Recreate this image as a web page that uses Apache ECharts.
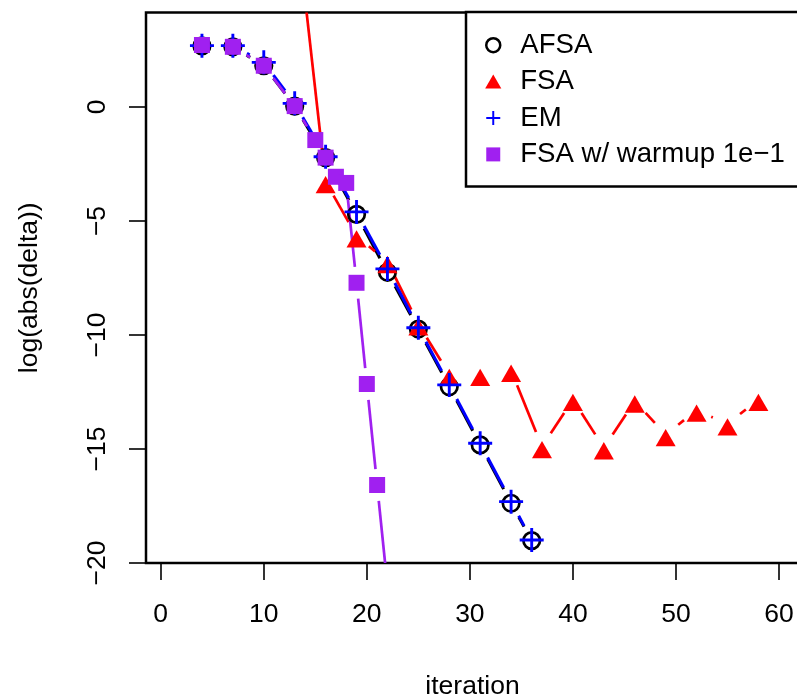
<!DOCTYPE html>
<html><head><meta charset="utf-8">
<script src="https://cdn.jsdelivr.net/npm/echarts@6/dist/echarts.min.js"></script>
<style>html,body{margin:0;padding:0;background:#fff}#c{width:797px;height:698px}</style>
</head><body><div id="c"></div>
<script>
// ---- data ----
const afsaX = [4, 7, 10, 13, 16, 19, 22, 25, 28, 31, 34, 36];
const afsaY = [2.68, 2.64, 1.81, 0.04, -2.22, -4.71, -7.25, -9.74, -12.27, -14.82, -17.38, -19.02];
const emX = [4, 7, 10, 13, 16, 19, 22, 25, 28, 31, 34, 36];
const emY = [2.69, 2.69, 1.96, 0.16, -2.18, -4.60, -7.10, -9.68, -12.19, -14.75, -17.31, -18.99];
const fsaX = [13, 16, 19, 22, 25, 28, 31, 34, 37, 40, 43, 46, 49, 52, 55, 58];
const fsaY = [8.8, -3.28, -5.66, -6.78, -9.52, -11.73, -11.73, -11.55, -14.90, -12.83, -14.95, -12.90, -14.37, -13.30, -13.90, -12.83];
const warmX = [4, 7, 10, 13, 15, 16, 17, 18, 19, 20, 21, 22];
const warmY = [2.72, 2.64, 1.81, 0.04, -1.45, -2.22, -3.06, -3.33, -7.71, -12.15, -16.58, -21.0];
const xTicks = [0, 10, 20, 30, 40, 50, 60];
const yTicks = [-20, -15, -10, -5, 0];
const names = ['AFSA', 'FSA', 'EM', 'FSA w/ warmup 1e\u22121'];

// ---- styling ----
const FONT = 'Liberation Sans';
const FS = 26.5;
const LFS = 27.6;
const GAP = 16;
const PLUS = 'path://M0.44,0H0.56V0.44H1V0.56H0.56V1H0.44V0.56H0V0.44H0.44Z';
const LPLUS = 'path://M0.43,0H0.57V0.43H1V0.57H0.57V1H0.43V0.57H0V0.43H0.43Z';
const CIRC = 'path://M0,8A8,8,0,1,1,16,8A8,8,0,1,1,0,8Z';
const TRI = 'path://M0.5,0L1,0.866L0,0.866Z';
const SQ = 'path://M0,0H1V1H0Z';
const minus = v => String(v).replace('-', '\u2212');

function toPairs(xs, ys) { return xs.map((x, i) => [x, ys[i]]); }
function segs(xs, ys) {
  const d = [];
  for (let i = 0; i < xs.length - 1; i++) d.push([xs[i], ys[i], xs[i + 1], ys[i + 1]]);
  return d;
}
function lineSeries(id, xs, ys, color, width) {
  return {
    type: 'custom', id: id, name: id, silent: true, clip: true,
    data: segs(xs, ys), encode: { x: [0, 2], y: [1, 3] },
    renderItem: function (params, api) {
      const a = api.coord([api.value(0), api.value(1)]);
      const b = api.coord([api.value(2), api.value(3)]);
      const dx = b[0] - a[0], dy = b[1] - a[1];
      const L = Math.hypot(dx, dy);
      if (L <= 2 * GAP) return null;
      const ux = dx / L, uy = dy / L;
      return {
        type: 'line',
        shape: { x1: a[0] + ux * GAP, y1: a[1] + uy * GAP, x2: b[0] - ux * GAP, y2: b[1] - uy * GAP },
        style: { stroke: color, lineWidth: width }
      };
    }
  };
}

const chart = echarts.init(document.getElementById('c'), null, { renderer: 'canvas' });
chart.setOption({
  animation: false,
  backgroundColor: '#fff',
  grid: { left: 146, top: 12.5, width: 653, height: 550.5, show: true, borderColor: '#000', borderWidth: 2.5,
          backgroundColor: 'transparent', containLabel: false, outerBoundsMode: 'none' },
  xAxis: {
    type: 'value', min: -1.43, max: 61.94,
    axisLine: { show: false, onZero: false },
    axisTick: { show: true, inside: false, length: 17, customValues: xTicks, lineStyle: { color: '#000', width: 1.6 } },
    axisLabel: { customValues: xTicks, margin: 38, fontSize: FS, color: '#000', fontFamily: FONT, formatter: minus },
    splitLine: { show: false },
    name: 'iteration', nameLocation: 'middle', nameGap: 110,
    nameTextStyle: { fontSize: FS, color: '#000', fontFamily: FONT }
  },
  yAxis: {
    type: 'value', min: -20, max: 4.145,
    axisLine: { show: false, onZero: false },
    axisTick: { show: true, inside: false, length: 17, customValues: yTicks, lineStyle: { color: '#000', width: 1.6 } },
    axisLabel: { customValues: yTicks, rotate: 90, margin: 35, fontSize: FS, color: '#000', fontFamily: FONT, formatter: minus },
    splitLine: { show: false },
    name: 'log(abs(delta))', nameLocation: 'middle', nameGap: 103, nameRotate: 90,
    nameTextStyle: { fontSize: FS, color: '#000', fontFamily: FONT }
  },
  legend: {
    data: [
      { name: names[0], icon: CIRC, itemStyle: { color: 'rgba(0,0,0,0)', borderColor: '#000', borderWidth: 2.5 } },
      { name: names[1], icon: TRI, itemStyle: { color: '#ff0000', borderWidth: 0 } },
      { name: names[2], icon: LPLUS, itemStyle: { color: '#0000ff', borderWidth: 0 } },
      { name: names[3], icon: SQ, itemStyle: { color: '#a020f0', borderWidth: 0 } }
    ],
    orient: 'vertical', left: 466, top: 12, itemWidth: 44, itemHeight: 14, itemGap: 8.4,
    padding: [19.2, 30, 18.2, 19], borderColor: '#000', borderWidth: 2.5, backgroundColor: '#fff',
    selectedMode: false,
    textStyle: { fontSize: LFS, color: '#000', fontFamily: FONT }
  },
  series: [
    lineSeries('afsaLine', afsaX, afsaY, '#000000', 3),
    { type: 'scatter', name: names[0], data: toPairs(afsaX, afsaY), symbol: 'circle', symbolSize: 16.5,
      itemStyle: { color: 'rgba(0,0,0,0)', borderColor: '#000', borderWidth: 2.7, opacity: 1 } },
    lineSeries('fsaLine', fsaX, fsaY, '#ff0000', 2.7),
    { type: 'scatter', name: names[1], data: toPairs(fsaX, fsaY), symbol: 'triangle', symbolSize: [20, 17.3], symbolOffset: [0, 2.9],
      itemStyle: { color: '#ff0000', opacity: 1 } },
    lineSeries('emLine', emX, emY, '#0000ff', 3),
    { type: 'scatter', name: names[2], data: toPairs(emX, emY), symbol: PLUS, symbolSize: 24,
      itemStyle: { color: '#0000ff', opacity: 1 } },
    lineSeries('warmLine', warmX, warmY, '#a020f0', 2.7),
    { type: 'scatter', name: names[3], data: toPairs(warmX, warmY), symbol: 'rect', symbolSize: 16,
      itemStyle: { color: '#a020f0', opacity: 1 } }
  ]
});
</script></body></html>
